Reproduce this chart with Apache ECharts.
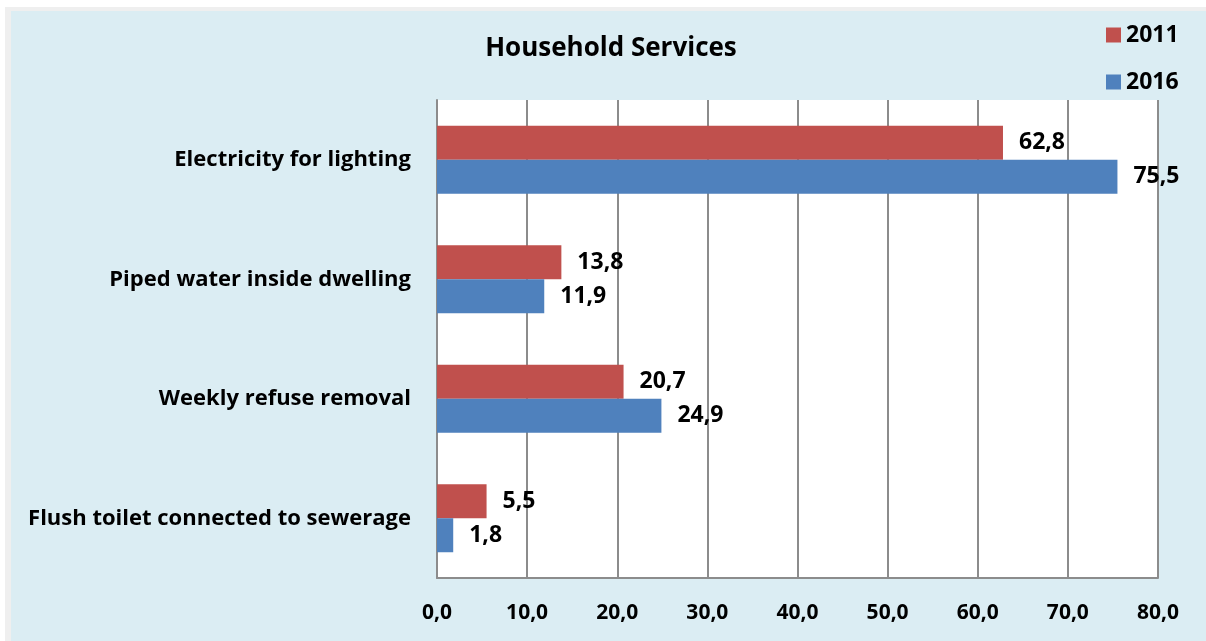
<!DOCTYPE html>
<html>
<head>
<meta charset="utf-8">
<script src="https://cdn.jsdelivr.net/npm/echarts@6/dist/echarts.min.js"></script>
<style>
  html, body { margin: 0; padding: 0; background: #ffffff; }
  #frame { position: absolute; left: 5px; top: 7px; width: 1201px; height: 634px; background: #efefef; }
  #panel { position: absolute; left: 11px; top: 11px; width: 1195px; height: 630px; background: #dbedf3; }
  #chart { position: absolute; left: 0; top: 0; width: 1206px; height: 641px; }
</style>
</head>
<body>
<div id="frame"></div>
<div id="panel"></div>
<div id="chart"></div>
<script>
// Household services, share of households (%)
const categories = [
  'Electricity for lighting',
  'Piped water inside dwelling',
  'Weekly refuse removal',
  'Flush toilet connected to sewerage'
];
const values2011 = [62.8, 13.8, 20.7, 5.5];
const values2016 = [75.5, 11.9, 24.9, 1.8];
const seriesNames = ['2011', '2016'];

const FONT = '"Open Sans", Lato, sans-serif';
const fmt = v => Number(v).toFixed(1).replace('.', ',');

const chart = echarts.init(document.getElementById('chart'), null, { renderer: 'canvas' });

const labelStyle = {
  show: true,
  position: 'right',
  distance: 16,
  color: '#000',
  fontFamily: FONT,
  fontWeight: 'bold',
  fontSize: 23,
  formatter: p => fmt(p.value)
};

chart.setOption({
  backgroundColor: 'transparent',
  animation: false,
  title: {
    text: 'Household Services',
    left: 606,
    top: 31,
    textAlign: 'center',
    textStyle: { fontFamily: FONT, fontWeight: 'bold', fontSize: 26, color: '#000' }
  },
  legend: {
    orient: 'vertical',
    left: 1101,
    top: 18,
    itemWidth: 15,
    itemHeight: 15,
    itemGap: 23,
    icon: 'rect',
    data: seriesNames,
    textStyle: { fontFamily: FONT, fontWeight: 'bold', fontSize: 23, lineHeight: 24, color: '#000' }
  },
  grid: {
    left: 437,
    right: 48,
    top: 100,
    bottom: 63,
    show: true,
    backgroundColor: '#ffffff',
    borderWidth: 0
  },
  xAxis: {
    type: 'value',
    min: 0,
    max: 80,
    interval: 10,
    axisLine: { show: true, lineStyle: { color: '#8c8c8c', width: 2 } },
    axisTick: { show: false },
    splitLine: { show: true, lineStyle: { color: '#8c8c8c', width: 2 } },
    axisLabel: {
      margin: 25,
      color: '#000',
      fontFamily: FONT,
      fontWeight: 'bold',
      fontSize: 21,
      formatter: v => fmt(v)
    }
  },
  yAxis: {
    type: 'category',
    inverse: true,
    data: categories,
    axisLine: { show: true, lineStyle: { color: '#8c8c8c', width: 2 } },
    axisTick: { show: false },
    axisLabel: {
      margin: 26,
      color: '#000',
      fontFamily: FONT,
      fontWeight: 'bold',
      fontSize: 22
    }
  },
  series: [
    {
      name: seriesNames[0],
      type: 'bar',
      data: values2011,
      barWidth: 34,
      barGap: '0%',
      itemStyle: { color: '#c0504d' },
      label: labelStyle
    },
    {
      name: seriesNames[1],
      type: 'bar',
      data: values2016,
      barWidth: 34,
      barGap: '0%',
      itemStyle: { color: '#4f81bd' },
      label: labelStyle
    }
  ]
});
</script>
</body>
</html>
